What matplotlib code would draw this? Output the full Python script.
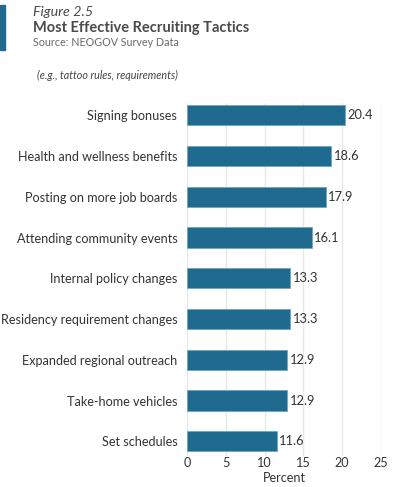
import matplotlib.pyplot as plt
import matplotlib.patches as patches

plt.rcParams['font.family'] = ['Lato', 'DejaVu Sans']

tactics = ['Signing bonuses', 'Health and wellness benefits', 'Posting on more job boards',
           'Attending community events', 'Internal policy changes', 'Residency requirement changes',
           'Expanded regional outreach', 'Take-home vehicles', 'Set schedules']
percent = [20.4, 18.6, 17.9, 16.1, 13.3, 13.3, 12.9, 12.9, 11.6]
xticks = [0, 5, 10, 15, 20, 25]

bar_color = '#1e6b8f'
text_color = '#333333'

fig = plt.figure(figsize=(4, 4.87), dpi=100)
ax = fig.add_axes([0.4675, 0.0637, 0.485, 0.7248])

ypos = list(range(len(tactics)))[::-1]
ax.barh(ypos, percent, height=0.5, color=bar_color, edgecolor='#6fa6c2', linewidth=0.6, zorder=3)
for y, v in zip(ypos, percent):
    ax.text(v + 0.3, y, f'{v:.1f}', va='center', ha='left', fontsize=9.3, color=text_color)

ax.set_xlim(0, 25)
ax.set_ylim(-0.36, 8.3)
ax.set_xticks(xticks)
ax.set_yticks(ypos)
ax.set_yticklabels(tactics, fontsize=9.1, color=text_color)
ax.tick_params(axis='x', labelsize=9.1, colors=text_color, length=0, pad=1)
ax.tick_params(axis='y', length=0, pad=7)
ax.xaxis.grid(True, color='#e8e8e8', linewidth=1.0, zorder=0)
for s in ax.spines.values():
    s.set_visible(False)
ax.set_xlabel('Percent', fontsize=9.1, color=text_color, labelpad=2)

fig.patches.append(patches.Rectangle((0.0, 1 - 50 / 487), 5 / 400, 45 / 487,
                                     transform=fig.transFigure, color=bar_color))
fig.text(33 / 400, 1 - 12 / 487, 'Figure 2.5', fontsize=10.3, style='italic', color='#4a4a4a', va='center')
fig.text(33 / 400, 1 - 28 / 487, 'Most Effective Recruiting Tactics', fontsize=10.55, weight='bold',
         color='#4a4a4a', va='center')
fig.text(33 / 400, 1 - 43 / 487, 'Source: NEOGOV Survey Data', fontsize=7.75, color='#6a6a6a', va='center')
fig.text(37 / 400, 1 - 75 / 487, '(e.g., tattoo rules, requirements)', fontsize=7.75, style='italic',
         color='#444444', va='center')

fig.savefig('out.png', dpi=100)
